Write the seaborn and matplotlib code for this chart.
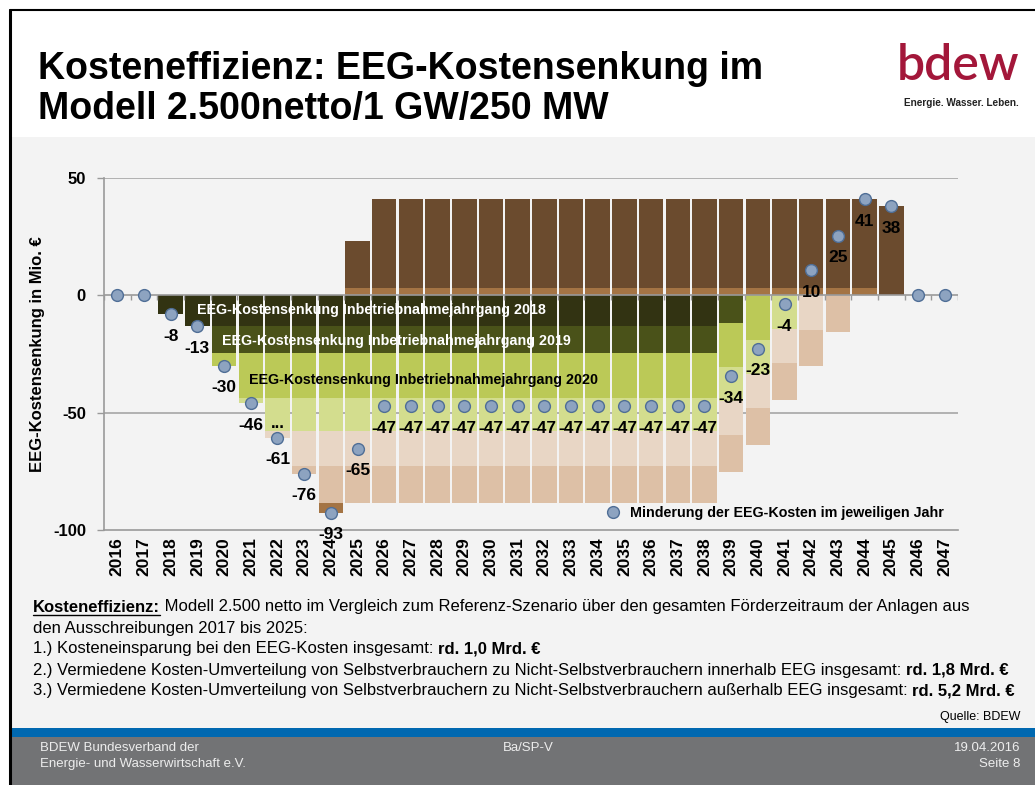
import numpy as np
import pandas as pd
import matplotlib
matplotlib.use("Agg")
import matplotlib.pyplot as plt
from matplotlib.patches import Rectangle
from matplotlib.lines import Line2D
import seaborn as sns

# ---------------- data (Mio. EUR) ----------------
years = [str(y) for y in range(2016, 2048)]
c2018 = [0, 0, -8] + [-13] * 20 + [0] * 9
c2019 = [0] * 4 + [-11.6] * 20 + [0] * 8
c2020 = [0] * 4 + [-5.4] + [-19.1] * 20 + [0] * 7
c2021 = [0] * 5 + [-2.2] + [-14.3] * 20 + [0] * 6
c2022 = [0] * 6 + [-2.6] + [-14.7] * 20 + [0] * 5
c2023 = [0] * 7 + [-3.3] + [-15.6] * 20 + [0] * 4
c2024 = [0] * 8 + [-4.3] + [3.0] * 20 + [0] * 3
c2025 = [0] * 9 + [20.0] + [38.0] * 20 + [0] * 2
value_labels = ["", "", "-8", "-13", "-30", "-46", "-61", "-76", "-93", "-65"] + ["-47"] * 13 + \
               ["-34", "-23", "-4", "10", "25", "41", "38", "", ""]

cohort_names = ["2018", "2019", "2020", "2021", "2022", "2023", "2024", "2025"]
cohorts = [c2018, c2019, c2020, c2021, c2022, c2023, c2024, c2025]
colors = ["#323312", "#4A5219", "#BBC957", "#D3DD8E", "#E8D6C5", "#DDC0A6", "#A47444", "#6B4B2E"]

arr = np.array(cohorts, dtype=float)
net = arr.sum(axis=0)

W, H = 1035, 785
sns.set_style("white")
plt.rcParams["font.family"] = ["Liberation Sans", "DejaVu Sans"]
plt.rcParams["text.color"] = "black"
plt.rcParams["axes.labelcolor"] = "black"
plt.rcParams["xtick.color"] = "black"
plt.rcParams["ytick.color"] = "black"

fig = plt.figure(figsize=(W / 100, H / 100), dpi=100)
fig.patch.set_facecolor("#F3F3F3")

def fx(x):
    return x / W

def fy(y):
    return 1 - y / H

# page decorations
fig.add_artist(Rectangle((0, fy(137)), 1, 1 - fy(137), transform=fig.transFigure,
                         facecolor="white", edgecolor="none", zorder=0))
fig.add_artist(Rectangle((0, 0), fx(9), 1, transform=fig.transFigure,
                         facecolor="white", edgecolor="none", zorder=0))
fig.add_artist(Rectangle((fx(9), fy(785)), 1, fy(737) - fy(785), transform=fig.transFigure,
                         facecolor="#727375", edgecolor="none", zorder=0))
fig.add_artist(Rectangle((fx(9), fy(737)), 1, fy(728) - fy(737), transform=fig.transFigure,
                         facecolor="#0068B0", edgecolor="none", zorder=0))
fig.add_artist(Line2D([fx(10), fx(10)], [0, fy(10)], transform=fig.transFigure,
                      color="black", lw=2.2, zorder=5))
fig.add_artist(Line2D([fx(10), 1], [fy(10), fy(10)], transform=fig.transFigure,
                      color="black", lw=1.5, zorder=5))

# title
fig.text(fx(38), fy(69), "Kosteneffizienz: EEG-Kostensenkung im", fontsize=27,
         fontweight="bold", va="center", ha="left")
fig.text(fx(38), fy(109), "Modell 2.500netto/1 GW/250 MW", fontsize=27,
         fontweight="bold", va="center", ha="left")
# logo
fig.text(fx(1019), fy(66), "bdew", fontsize=36, color="#A3173A", ha="right", va="center",
         fontfamily=["Lato", "DejaVu Sans"], fontweight="semibold")
fig.text(fx(1019), fy(103), "Energie. Wasser. Leben.", fontsize=7.2, color="#222222",
         ha="right", va="center", fontweight="bold")

# ---------------- chart ----------------
ax = fig.add_axes([fx(104), fy(530), fx(958) - fx(104), fy(178) - fy(530)])
ax.set_facecolor("none")

neg_layers = []
pos_layers = []
for name, vals, col in zip(cohort_names, cohorts, colors):
    v = np.array(vals, dtype=float)
    neg_layers.append((np.minimum(v, 0), col))
    pos_layers.append((np.maximum(v, 0), col))

bw = 0.92
# negative stack: draw cumulative from outermost to innermost
cum = np.cumsum([l[0] for l in neg_layers], axis=0)
for k in range(len(neg_layers) - 1, -1, -1):
    df = pd.DataFrame({"year": years, "v": cum[k]})
    sns.barplot(data=df, x="year", y="v", order=years, color=neg_layers[k][1], saturation=1,
                width=bw, ax=ax, zorder=2, linewidth=0, errorbar=None)
# positive stack (2024 then 2025 on top)
pos = [pos_layers[6], pos_layers[7]]
cum_p = np.cumsum([p[0] for p in pos], axis=0)
for k in range(len(pos) - 1, -1, -1):
    df = pd.DataFrame({"year": years, "v": cum_p[k]})
    sns.barplot(data=df, x="year", y="v", order=years, color=pos[k][1], saturation=1,
                width=bw, ax=ax, zorder=2, linewidth=0, errorbar=None)

# net points
dfn = pd.DataFrame({"year": years, "net": net})
sns.stripplot(data=dfn, x="year", y="net", order=years, jitter=False, size=8.5,
              color="#8DA3C0", edgecolor="#4F6E96", linewidth=1.0, ax=ax, zorder=6)

for i, (lab, v) in enumerate(zip(value_labels, net)):
    if lab:
        ax.annotate(lab, (i, v), xytext=(0, -16), textcoords="offset points", ha="center",
                    va="center", fontsize=12.5, fontweight="bold", zorder=7, annotation_clip=False)

ax.text(6, -54.5, "...", ha="center", va="center", fontsize=12, fontweight="bold", zorder=7)

ax.text(2.98, -6.4, "EEG-Kostensenkung Inbetriebnahmejahrgang 2018", color="white",
        fontsize=10.3, fontweight="bold", va="center", ha="left", zorder=7)
ax.text(3.92, -19.6, "EEG-Kostensenkung Inbetriebnahmejahrgang 2019", color="white",
        fontsize=10.3, fontweight="bold", va="center", ha="left", zorder=7)
ax.text(4.93, -36.2, "EEG-Kostensenkung Inbetriebnahmejahrgang 2020", color="black",
        fontsize=10.3, fontweight="bold", va="center", ha="left", zorder=7)

ax.set_xlim(-0.5, 31.5)
ax.set_ylim(-100, 50)
ax.set_yticks([-100, -50, 0, 50])
ax.set_yticklabels(["-100", "-50", "0", "50"], fontsize=12, fontweight="bold")
ax.set_xticks(range(len(years)))
ax.set_xticklabels(years, rotation=90, fontsize=12.5, fontweight="bold")
ax.tick_params(axis="x", length=0, pad=5)
ax.tick_params(axis="y", length=5, width=1, color="#999999", labelcolor="black", pad=8,
               direction="out", left=True)
ax.set_xlabel("")
ax.set_ylabel("EEG-Kostensenkung in Mio. €", fontsize=12, fontweight="bold", labelpad=6)
for s in ["top", "right"]:
    ax.spines[s].set_visible(False)
for s in ["left", "bottom"]:
    ax.spines[s].set_color("#999999")
    ax.spines[s].set_linewidth(1.2)
ax.axhline(50, color="#A6A6A6", lw=1.2, zorder=1)
ax.axhline(-50, color="#A6A6A6", lw=1.2, zorder=1)
ax.axhline(0, color="#999999", lw=1.2, zorder=4)
bounds = np.arange(-0.5, len(years) + 0.5, 1.0)
ax.vlines(bounds, -1.9, 0, color="#999999", lw=1.0, zorder=4)

leg_handle = Line2D([], [], marker="o", linestyle="none", markersize=8.5,
                    markerfacecolor="#8DA3C0", markeredgecolor="#4F6E96", markeredgewidth=1.0)
leg = ax.legend([leg_handle], ["Minderung der EEG-Kosten im jeweiligen Jahr"], loc="lower right",
                bbox_to_anchor=(0.995, 0.0), frameon=False, handletextpad=0.2, borderaxespad=0.3,
                prop={"weight": "bold", "size": 10.3, "family": "Liberation Sans"})

# ---------------- text block ----------------
renderer = fig.canvas.get_renderer()

def rich_line(x, y, parts, size=12.0):
    cur = x
    for txt, bold, underline in parts:
        t = fig.text(fx(cur), fy(y), txt, fontsize=size, fontweight="bold" if bold else "normal",
                     va="center", ha="left", color="black")
        bb = t.get_window_extent(renderer=renderer)
        if underline:
            fig.add_artist(Line2D([bb.x0 / W, bb.x1 / W], [fy(y + 8), fy(y + 8)],
                                  transform=fig.transFigure, color="black", lw=1))
        cur += bb.width

rich_line(33, 607, [("Kosteneffizienz:", True, True),
                    (" Modell 2.500 netto im Vergleich zum Referenz-Szenario über den gesamten Förderzeitraum der Anlagen aus", False, False)])
rich_line(33, 628, [("den Ausschreibungen 2017 bis 2025:", False, False)])
rich_line(33, 649, [("1.) Kosteneinsparung bei den EEG-Kosten insgesamt: ", False, False),
                    ("rd. 1,0 Mrd. €", True, False)])
rich_line(33, 670, [("2.) Vermiedene Kosten-Umverteilung von Selbstverbrauchern zu Nicht-Selbstverbrauchern innerhalb EEG insgesamt: ", False, False),
                    ("rd. 1,8 Mrd. €", True, False)])
rich_line(33, 691, [("3.) Vermiedene Kosten-Umverteilung von Selbstverbrauchern zu Nicht-Selbstverbrauchern außerhalb EEG insgesamt: ", False, False),
                    ("rd. 5,2 Mrd. €", True, False)])

fig.text(fx(1020), fy(717), "Quelle: BDEW", fontsize=9, ha="right", va="center", color="black")

# footer
fc = "#EDEDED"
fig.text(fx(40), fy(748), "BDEW Bundesverband der", fontsize=9.5, color=fc, va="center")
fig.text(fx(40), fy(764), "Energie- und Wasserwirtschaft e.V.", fontsize=9.5, color=fc, va="center")
fig.text(fx(503), fy(748), "Ba/SP-V", fontsize=9.5, color=fc, va="center")
fig.text(fx(1020), fy(748), "19.04.2016", fontsize=9.5, color=fc, va="center", ha="right")
fig.text(fx(1020), fy(764), "Seite 8", fontsize=9.5, color=fc, va="center", ha="right")

fig.savefig("out.png", dpi=100, facecolor=fig.get_facecolor())
